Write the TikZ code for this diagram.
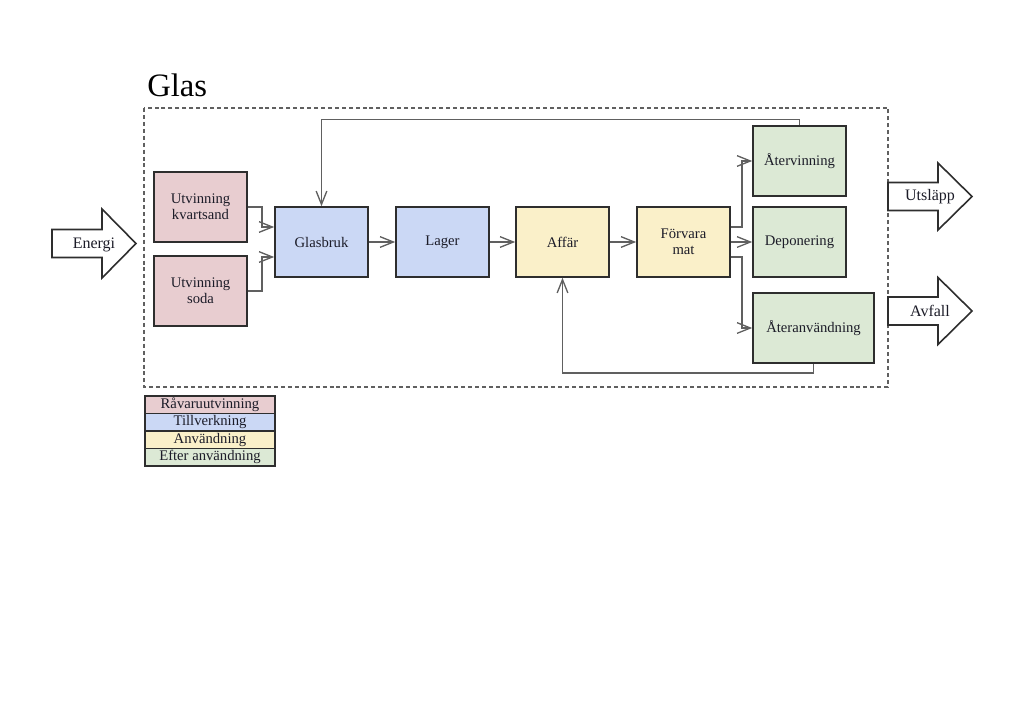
\documentclass[tikz,border=0pt]{standalone}
\usepackage{fontspec}
\setmainfont{Liberation Serif}
\usetikzlibrary{arrows.meta,calc}
\definecolor{cpink}{HTML}{E8CDD0}
\definecolor{cblue}{HTML}{CBD8F5}
\definecolor{cyellow}{HTML}{FAF0C9}
\definecolor{cgreen}{HTML}{DCE9D5}
\definecolor{cline}{HTML}{606060}
\definecolor{cborder}{HTML}{2E2E2E}
\definecolor{ctext}{HTML}{1C1C28}
\tikzset{
  box/.style={draw=cborder, line width=1.2pt, minimum width=69.75pt, minimum height=52.5pt,
    align=center, font=\fontsize{11}{12}\selectfont, text=ctext, inner sep=1pt},
  conn/.style={draw=cline, line width=1.05pt, -{Straight Barb[length=10pt,width=8pt,line width=1pt]}},
  blockarrow/.style={draw=cborder, line width=1.2pt, fill=white, line join=miter},
  arrowlabel/.style={font=\fontsize{12}{13}\selectfont, text=ctext},
  legend/.style={draw=cborder, line width=1.1pt, minimum width=97.5pt, minimum height=13.125pt,
    inner sep=0pt, font=\fontsize{11}{12}\selectfont, text=ctext},
}
\begin{document}
\begin{tikzpicture}[x=0.75pt,y=-0.75pt]
\useasboundingbox (0,0) rectangle (1024,724);
% title
\node[anchor=base west, font=\fontsize{24.5}{26}\selectfont, inner sep=0pt] (title) at (147,96.5) {Glas};
% dashed frame
\draw[draw=cline, line width=0.8pt, dash pattern=on 3pt off 2.2pt] (144,108) rectangle (888,387);
% boxes
\node[box, fill=cpink] (kvarts) at (200.5,207) {Utvinning\\kvartsand};
\node[box, fill=cpink] (soda) at (200.5,291) {Utvinning\\soda};
\node[box, fill=cblue] (glasbruk) at (321.5,242) {Glasbruk};
\node[box, fill=cblue] (lager) at (442.5,242) {Lager};
\node[box, fill=cyellow] (affar) at (562.5,242) {Affär};
\node[box, fill=cyellow] (forvara) at (683.5,242) {Förvara\\mat};
\node[box, fill=cgreen] (atervinning) at (799.5,161) {Återvinning};
\node[box, fill=cgreen] (deponering) at (799.5,242) {Deponering};
\node[box, fill=cgreen, minimum width=90.75pt] (ateranv) at (813.5,328) {Återanvändning};
% connectors
\draw[conn] (kvarts.east) -- ++(14,0) |- ($(glasbruk.west)+(0,-15)$);
\draw[conn] (soda.east) -- ++(14,0) |- ($(glasbruk.west)+(0,15)$);
\draw[conn] (glasbruk) -- (lager);
\draw[conn] (lager) -- (affar);
\draw[conn] (affar) -- (forvara);
\draw[conn] ($(forvara.east)+(0,-15)$) -- ++(11,0) |- (atervinning.west);
\draw[conn] (forvara) -- (deponering);
\draw[conn] ($(forvara.east)+(0,15)$) -- ++(11,0) |- (ateranv.west);
\draw[conn] (atervinning.north) -- ++(0,-6) -| (glasbruk.north);
\draw[conn] (ateranv.south) -- ++(0,9) -| (affar.south);
% block arrows
\draw[blockarrow] (52,229.5) -- (102,229.5) -- (102,209) -- (136,243.5) -- (102,278) -- (102,257.5) -- (52,257.5) -- cycle;
\node[arrowlabel] (energi) at (94,244.5) {Energi};
\draw[blockarrow] (888,182.5) -- (938,182.5) -- (938,163) -- (972,196.5) -- (938,230) -- (938,210.5) -- (888,210.5) -- cycle;
\node[arrowlabel] (utslapp) at (930,196.5) {Utsläpp};
\draw[blockarrow] (888,297) -- (938,297) -- (938,277.5) -- (972,311) -- (938,344.5) -- (938,325) -- (888,325) -- cycle;
\node[arrowlabel] (avfall) at (930,311) {Avfall};
% legend
\node[legend, fill=cpink] (l1) at (210,404.75) {Råvaruutvinning};
\node[legend, fill=cblue] (l2) at (210,422.25) {Tillverkning};
\node[legend, fill=cyellow] (l3) at (210,439.75) {Användning};
\node[legend, fill=cgreen] (l4) at (210,457.25) {Efter användning};
\end{tikzpicture}
\end{document}
